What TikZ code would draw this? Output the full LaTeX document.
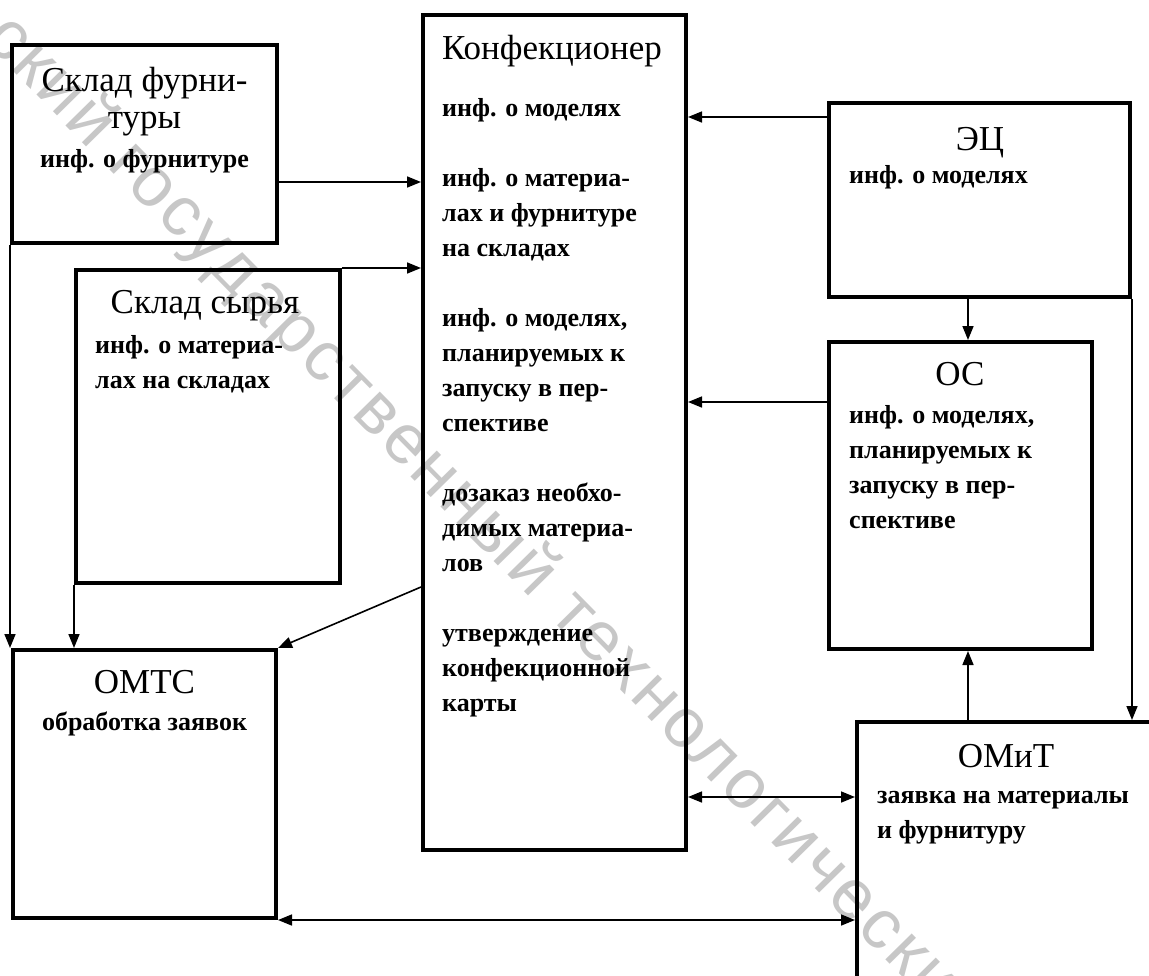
\documentclass[tikz,border=0pt]{standalone}
\usepackage{fontspec}
\setmainfont{Liberation Serif}
\newfontfamily\wmfont[LetterSpace=5]{Liberation Sans}
\usetikzlibrary{arrows.meta}
% text blocks whose reference point is the baseline of their first line
\newcommand\leftlines[1]{\begin{tabular}[t]{@{}l@{}}#1\end{tabular}}
\newcommand\centerlines[1]{\begin{tabular}[t]{@{}c@{}}#1\end{tabular}}

\begin{document}
\begin{tikzpicture}[x=1pt,y=-1pt,
  blk/.style={draw, line width=4pt, rectangle, inner sep=0pt},
  ttl/.style={font=\fontsize{35}{37}\selectfont, inner sep=0pt, anchor=base},
  txt/.style={font=\fontsize{26}{35}\selectfont\bfseries, inner sep=0pt, anchor=base west},
  txtc/.style={txt, anchor=base},
  tip/.tip={Triangle[length=14pt,width=11pt]},
  arr/.style={line width=1.6pt, -tip},
  arrs/.style={line width=1.6pt, tip-tip},
  wm/.style={font=\wmfont\fontsize{70}{70}\selectfont, text=black!22, inner sep=0pt,
             anchor=base west, rotate=-45.5}]

\useasboundingbox (0,0) rectangle (1149,975);
\fill[white] (0,0) rectangle (1149,975);
\clip (0,0) rectangle (1149,975);

% faint diagonal stamp across the sheet
\node[wm] (stamp) at (-18,40) {ский государственный технологический};

% units
\node[blk, minimum width=265pt, minimum height=198pt] (skf)  at (144.5,144)   {};
\node[blk, minimum width=264pt, minimum height=313pt] (sks)  at (208,426.5)   {};
\node[blk, minimum width=263pt, minimum height=835pt] (konf) at (554.5,432.5) {};
\node[blk, minimum width=301pt, minimum height=194pt] (ec)   at (979.5,200)   {};
\node[blk, minimum width=263pt, minimum height=307pt] (os)   at (960.5,495.5) {};
\node[blk, minimum width=263pt, minimum height=268pt] (omts) at (144.5,784)   {};
\node[blk, minimum width=343pt, minimum height=298pt] (omit) at (1028.5,871)  {};

% unit captions
\node[ttl] (t-skf) at (144.5,91) {\centerlines{Склад фурни-\\туры}};
\node[txtc] (b-skf) at (144.5,167) {инф. о фурнитуре};

\node[ttl] (t-sks) at (205,313) {Склад сырья};
\node[txt] (b-sks) at (95,353) {\leftlines{инф. о материа-\\лах на складах}};

\node[ttl] (t-konf) at (552,59) {Конфекционер};
\node[txt] (b-konf) at (442,116) {\leftlines{инф. о моделях\\ \\
  инф. о материа-\\лах и фурнитуре\\на складах\\ \\
  инф. о моделях,\\планируемых к\\запуску в пер-\\спективе\\ \\
  дозаказ необхо-\\димых материа-\\лов\\ \\
  утверждение\\конфекционной\\карты}};

\node[ttl] (t-ec) at (980,150) {ЭЦ};
\node[txt] (b-ec) at (849,183) {инф. о моделях};

\node[ttl] (t-os) at (960,385) {ОС};
\node[txt] (b-os) at (849,423) {\leftlines{инф. о моделях,\\планируемых к\\запуску в пер-\\спективе}};

\node[ttl] (t-omts) at (144.5,693) {ОМТС};
\node[txtc] (b-omts) at (144.5,730) {обработка заявок};

\node[ttl] (t-omit) at (1006,767) {ОМиТ};
\node[txt] (b-omit) at (877,803) {\leftlines{заявка на материалы\\и фурнитуру}};

% information flows
\draw[arr] (skf.east |- 0,182) -- (konf.west |- 0,182);
\draw[arr] (sks.north east) -- (konf.west |- sks.north east);
\draw[arr] (ec.west |- 0,117) -- (konf.east |- 0,117);
\draw[arr] (os.west |- 0,402) -- (konf.east |- 0,402);
\draw[arr] (konf.west |- 0,587) -- (omts.north east);
\draw[arr] (skf.south west) -- (skf.south west |- omts.north);
\draw[arr] (sks.south west) -- (sks.south west |- omts.north);
\draw[arr] (ec.south -| 968,0) -- (os.north -| 968,0);
\draw[arr] (ec.south east) -- (ec.south east |- omit.north);
\draw[arr] (omit.north -| 968,0) -- (os.south -| 968,0);
\draw[arrs] (konf.east |- 0,797) -- (omit.west |- 0,797);
\draw[arrs] (omts.south east) -- (omit.west |- omts.south east);
\end{tikzpicture}
\end{document}
